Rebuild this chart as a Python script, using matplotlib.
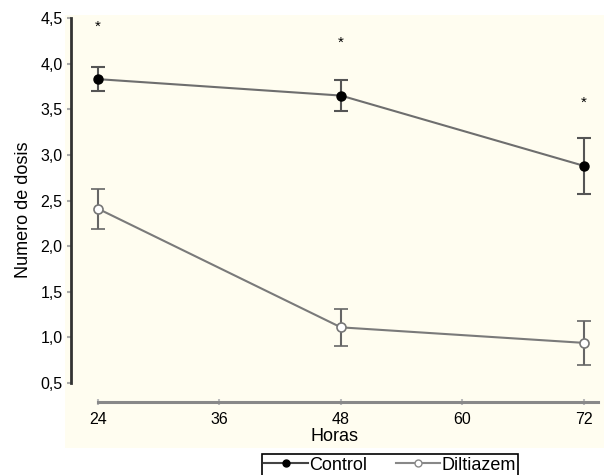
import matplotlib
matplotlib.use("Agg")
import matplotlib.pyplot as plt
from matplotlib.patches import Rectangle
from matplotlib.lines import Line2D

hours = [24, 48, 72]
control_mean = [3.83, 3.65, 2.88]
control_err = [0.13, 0.17, 0.31]
diltiazem_mean = [2.41, 1.11, 0.94]
diltiazem_err = [0.22, 0.20, 0.24]
star_y = [4.40, 4.23, 3.57]
xticks = [24, 36, 48, 60, 72]
yticks = [0.5, 1.0, 1.5, 2.0, 2.5, 3.0, 3.5, 4.0, 4.5]
ytick_labels = [f"{v:.1f}".replace(".", ",") for v in yticks]

plt.rcParams['font.family'] = ['Liberation Sans', 'DejaVu Sans']

W, H = 604, 475
fig = plt.figure(figsize=(W / 100, H / 100), dpi=100)
fig.patch.set_facecolor('white')
bg = fig.add_axes([65 / W, 1 - 448 / H, (W - 65) / W, (448 - 15) / H], zorder=-10)
bg.set_axis_off()
bg.add_patch(Rectangle((0, 0), 1, 1, transform=bg.transAxes, facecolor='#fffdf0',
                       edgecolor='none'))

ax = fig.add_axes([71 / W, 1 - 402 / H, (598 - 71) / W, (402 - 18) / H], zorder=1)
ax.set_facecolor('none')

ax.errorbar(hours, control_mean, yerr=control_err, color='#6e6e6e', lw=1.5,
            marker='o', ms=6.5, mfc='black', mec='black', ecolor='#555555',
            elinewidth=1.5, capsize=5, capthick=1.5, zorder=3)
ax.errorbar(hours, diltiazem_mean, yerr=diltiazem_err, color='#7a7a7a', lw=1.5,
            marker='o', ms=6.5, mfc='white', mec='#777777', mew=1.2, ecolor='#666666',
            elinewidth=1.5, capsize=5, capthick=1.5, zorder=3)
for x, y in zip(hours, star_y):
    ax.text(x, y, '*', ha='center', va='center', fontsize=11, color='black')

ax.set_xlim(21.33, 73.4)
ax.set_ylim(0.292, 4.5)
ax.set_xticks(xticks)
ax.set_xticklabels([str(v) for v in xticks], fontsize=11.5)
ax.set_yticks(yticks)
ax.set_yticklabels(ytick_labels, fontsize=11.5)

for s in ['top', 'right']:
    ax.spines[s].set_visible(False)
ax.spines['left'].set_bounds(0.5, 4.5)
ax.spines['left'].set_color('#333333')
ax.spines['left'].set_linewidth(2)
ax.spines['bottom'].set_bounds(24, 73.4)
ax.spines['bottom'].set_color('#888888')
ax.spines['bottom'].set_linewidth(2.2)
ax.tick_params(axis='y', length=3, width=1.5, color='#aaaaaa', pad=3)
ax.tick_params(axis='x', length=4, width=1.5, color='#bbbbbb', pad=5, direction='inout')

ax.set_xlabel('Horas', fontsize=13, labelpad=1)
ax.set_ylabel('Numero de dosis', fontsize=13, labelpad=6)

handles = [
    Line2D([], [], color='#444444', lw=1.5, marker='o', ms=5, mfc='black', mec='black'),
    Line2D([], [], color='#888888', lw=1.5, marker='o', ms=5, mfc='white', mec='#888888'),
]
leg = fig.legend(handles, ['Control', 'Diltiazem'], loc='upper center',
                 bbox_to_anchor=(390 / W, 1 - 454 / H), ncol=2, fontsize=13,
                 frameon=True, fancybox=False, edgecolor='black', framealpha=1,
                 handlelength=2.4, handletextpad=0.1, columnspacing=1.6,
                 borderpad=0.15, borderaxespad=0)
leg.get_frame().set_linewidth(1.2)

fig.savefig('out.png', dpi=100)
